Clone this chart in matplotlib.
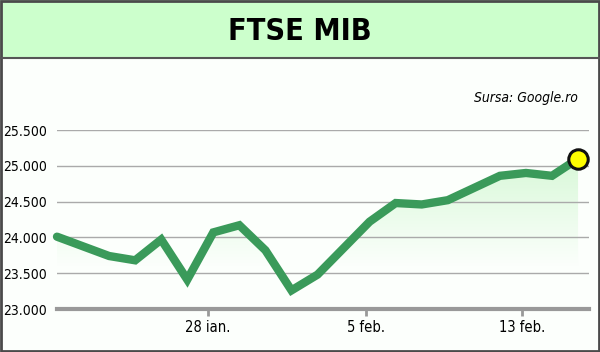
import matplotlib.pyplot as plt
import numpy as np
from matplotlib.patches import Rectangle, Polygon
import matplotlib.ticker as mticker

values = [24010, 23875, 23740, 23680, 23970, 23410, 24070, 24170, 23820, 23260,
          23480, 23850, 24220, 24480, 24460, 24520, 24690, 24860, 24900, 24860, 25100]
tick_pos = [5.8, 11.85, 17.85]
tick_labels = ["28 ian.", "5 feb.", "13 feb."]
y_ticks = [23000, 23500, 24000, 24500, 25000, 25500]

narrow = ["DejaVu Sans"]
green = "#3a9a5a"

fig = plt.figure(figsize=(6, 3.52), dpi=100)
fig.patch.set_facecolor("#fcfffc")

# title band
fig.add_artist(Rectangle((0, 1 - 58 / 352), 1, 58 / 352, transform=fig.transFigure,
                         facecolor="#ccffcc", edgecolor="none", zorder=0))
fig.add_artist(plt.Line2D([0, 1], [1 - 58 / 352] * 2, transform=fig.transFigure,
                          color="#555555", lw=1.5))
fig.add_artist(Rectangle((0.001, 0.002), 0.997, 0.996, transform=fig.transFigure,
                         facecolor="none", edgecolor="#4a4a4a", lw=2))
fig.text(0.5, 1 - 32 / 352, "FTSE MIB", ha="center", va="center",
         fontsize=22, fontweight="bold", family=narrow, stretch="condensed")
fig.text(578 / 600, 1 - 98 / 352, "Sursa: Google.ro", ha="right", va="center",
         fontsize=10, style="italic", family=narrow, stretch="condensed")

ax = fig.add_axes([57 / 600, 1 - 309 / 352, (589 - 57) / 600, (309 - 130) / 352])
ax.set_facecolor("none")
x = np.arange(len(values))
ax.set_xlim(0, 20.42)
ax.set_ylim(23000, 25500)

# gradient fill under the line
base = 23600
grad = np.linspace(0, 1, 256).reshape(-1, 1)
cmap = plt.matplotlib.colors.LinearSegmentedColormap.from_list("g", ["#fcfffc", "#d8f8d8"])
img = ax.imshow(grad, extent=[0, 20, base, 25100], origin="lower", aspect="auto",
                cmap=cmap, zorder=1)
poly = Polygon(np.column_stack([np.r_[x, x[-1], 0], np.r_[values, base, base]]),
               closed=True, transform=ax.transData, facecolor="none", edgecolor="none")
ax.add_patch(poly)
img.set_clip_path(poly)

for yt in y_ticks[1:]:
    ax.axhline(yt, color="#aaaaaa", lw=1, zorder=2)

ax.plot(x, values, color=green, lw=6, solid_joinstyle="miter", solid_capstyle="round",
        zorder=3, clip_on=False)
ax.plot(x[-1], values[-1], "o", ms=14, mfc="#ffff00", mec="#111111", mew=2.2,
        zorder=4, clip_on=False)

for s in ["top", "right", "left"]:
    ax.spines[s].set_visible(False)
ax.spines["bottom"].set_color("#999999")
ax.spines["bottom"].set_linewidth(3)
ax.set_yticks(y_ticks)
ax.yaxis.set_major_formatter(mticker.FuncFormatter(lambda v, p: f"{int(v):,}".replace(",", ".")))
ax.tick_params(axis="y", length=0, pad=7, labelsize=10)
ax.set_xticks(tick_pos)
ax.set_xticklabels(tick_labels)
ax.tick_params(axis="x", length=5, width=2, color="#999999", pad=3, labelsize=10.5)
for lab in ax.get_xticklabels() + ax.get_yticklabels():
    lab.set_family(narrow)
    lab.set_stretch("condensed")

fig.savefig("out.png", dpi=100, facecolor=fig.get_facecolor())
